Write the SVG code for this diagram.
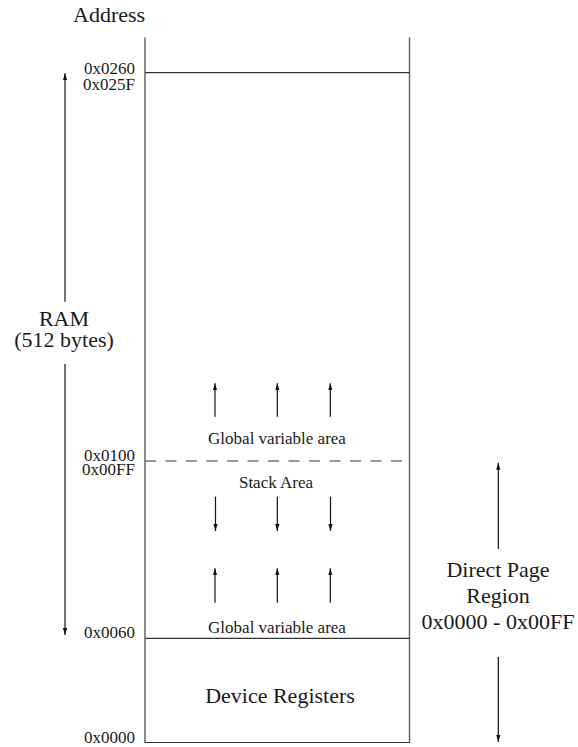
<svg xmlns="http://www.w3.org/2000/svg" width="578" height="747" viewBox="0 0 578 747">
<style>
.t{font-family:"Liberation Serif","Times New Roman",serif;fill:#1a1a1a}
.s{font-size:17px}
.b{font-size:22px}
.box{stroke:#666;stroke-width:1.5;fill:none}
.hl{stroke:#333;stroke-width:1.2;fill:none}
.ar{stroke:#111;stroke-width:1.2;fill:none}
</style>
<defs>
<marker id="ah" markerUnits="userSpaceOnUse" markerWidth="7" markerHeight="10" refX="10" refY="3.5" orient="auto" viewBox="0 0 10 7">
<path d="M0,0.5 L10,3.5 L0,6.5 Z" fill="#111"/>
</marker>
</defs>
<rect width="578" height="747" fill="#fff"/>
<g id="memory-box">
<line class="box" x1="145" y1="37.5" x2="145" y2="743"/>
<line class="box" x1="409.5" y1="37.5" x2="409.5" y2="743"/>
<line class="hl" x1="145" y1="72.7" x2="409.5" y2="72.7"/>
<line class="hl" x1="145" y1="461" x2="404" y2="461" stroke-dasharray="11 9.5"/>
<line class="hl" x1="145" y1="638.3" x2="409.5" y2="638.3"/>
<line class="hl" x1="145" y1="742.5" x2="409.5" y2="742.5"/>
</g>
<g id="labels-address">
<text class="t b" x="73" y="21.5">Address</text>
<text class="t s" x="135" y="74" text-anchor="end">0x0260</text>
<text class="t s" x="135" y="90" text-anchor="end">0x025F</text>
<text class="t s" x="135" y="461" text-anchor="end">0x0100</text>
<text class="t s" x="135" y="474.5" text-anchor="end">0x00FF</text>
<text class="t s" x="135" y="638" text-anchor="end">0x0060</text>
<text class="t s" x="135" y="742.5" text-anchor="end">0x0000</text>
</g>
<g id="ram-label">
<text class="t b" x="64" y="326" text-anchor="middle">RAM</text>
<text class="t b" x="64" y="347" text-anchor="middle">(512 bytes)</text>
</g>
<g id="global-upper">
<text class="t s" x="277" y="444" text-anchor="middle">Global variable area</text>
</g>
<g id="stack-area">
<text class="t s" x="276" y="488" text-anchor="middle">Stack Area</text>
</g>
<g id="global-lower">
<text class="t s" x="277" y="633" text-anchor="middle">Global variable area</text>
</g>
<g id="device-registers">
<text class="t b" x="280" y="703" text-anchor="middle">Device Registers</text>
</g>
<g id="direct-page">
<text class="t b" x="498" y="577" text-anchor="middle">Direct Page</text>
<text class="t b" x="498" y="603" text-anchor="middle">Region</text>
<text class="t b" x="498" y="629" text-anchor="middle">0x0000 - 0x00FF</text>
</g>
<g id="connectors">
<line class="ar" x1="65" y1="301.7" x2="65" y2="73.3" marker-end="url(#ah)"/>
<line class="ar" x1="65" y1="364" x2="65" y2="635" marker-end="url(#ah)"/>
<line class="ar" x1="498.3" y1="549" x2="498.3" y2="462.7" marker-end="url(#ah)"/>
<line class="ar" x1="498.3" y1="657" x2="498.3" y2="742" marker-end="url(#ah)"/>
<line class="ar" x1="215" y1="416.7" x2="215" y2="383.3" marker-end="url(#ah)"/>
<line class="ar" x1="277.3" y1="416.7" x2="277.3" y2="383.3" marker-end="url(#ah)"/>
<line class="ar" x1="330.3" y1="416.7" x2="330.3" y2="383.3" marker-end="url(#ah)"/>
<line class="ar" x1="215.5" y1="496.7" x2="215.5" y2="531" marker-end="url(#ah)"/>
<line class="ar" x1="277.3" y1="496.7" x2="277.3" y2="531" marker-end="url(#ah)"/>
<line class="ar" x1="330.5" y1="496.7" x2="330.5" y2="531" marker-end="url(#ah)"/>
<line class="ar" x1="215" y1="602.7" x2="215" y2="568.3" marker-end="url(#ah)"/>
<line class="ar" x1="277.3" y1="602.7" x2="277.3" y2="568.3" marker-end="url(#ah)"/>
<line class="ar" x1="330.3" y1="602.7" x2="330.3" y2="568.3" marker-end="url(#ah)"/>
</g>
</svg>
